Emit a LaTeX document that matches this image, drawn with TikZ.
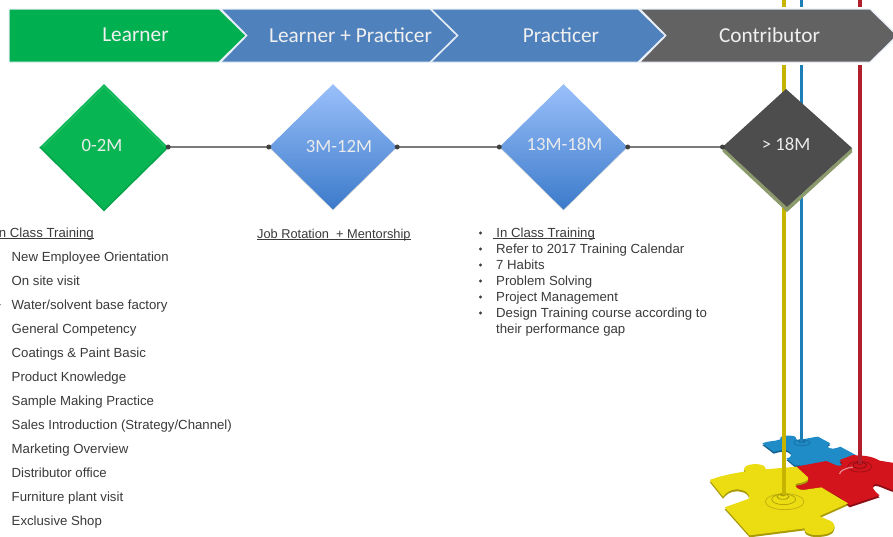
\documentclass[tikz,border=0pt]{standalone}
\usepackage{fontspec}
\setmainfont{Liberation Sans}
\newfontfamily\headfont{Carlito}
\usetikzlibrary{shapes.geometric,calc}
\definecolor{cgreen}{HTML}{00B050}
\definecolor{cgreenb}{HTML}{07B653}
\definecolor{cblue}{HTML}{4F81BD}
\definecolor{cdark}{HTML}{626262}
\definecolor{cface}{HTML}{4D4D4D}
\definecolor{colive}{HTML}{8B9A6B}
\definecolor{ctext}{HTML}{3A3A3A}
\definecolor{cline}{HTML}{7A7A7A}
\definecolor{cyel}{HTML}{C6B400}
\definecolor{cblu}{HTML}{1C7FB8}
\definecolor{cred}{HTML}{B01F2B}
\definecolor{pyel}{HTML}{EBDD12}
\definecolor{pyeld}{HTML}{A89A08}
\definecolor{pblu}{HTML}{1F8CC8}
\definecolor{pblud}{HTML}{14608C}
\definecolor{pred}{HTML}{D3141C}
\definecolor{predd}{HTML}{8C0E14}
\definecolor{gemtop}{HTML}{9AC0FA}
\definecolor{gembot}{HTML}{3B7ACA}
\newcommand\undr[1]{\setbox0\hbox{#1}\rlap{\rule[-1.3pt]{\wd0}{.7pt}}\box0}
\tikzset{
  x=1pt,y=-1pt,
  head/.style={font=\headfont\fontsize{21.3}{24}\selectfont,text=white!94!black},
  dtext/.style={font=\headfont\fontsize{18.7}{21}\selectfont,text=white!92!black},
  chev/.style={draw=white!85!cblue,line width=1pt},
  gem/.style={diamond,inner sep=0pt,minimum width=128pt,minimum height=126pt},
  greengem/.style={gem,fill=cgreenb},
  bluegem/.style={gem,top color=gemtop,bottom color=gembot},
  link/.style={draw=cline,line width=2.2pt},
  jdot/.style={circle,fill=black!75,inner sep=0pt,minimum size=5pt},
  item/.style={anchor=base west,inner sep=0pt,font=\fontsize{13.2}{15}\selectfont,text=ctext},
  pour/.style={line width=4pt},
}
\begin{document}
\begin{tikzpicture}
\useasboundingbox (0,0) rectangle (893,536);
\clip (0,0) rectangle (893,536);
\fill[white] (0,0) rectangle (893,536);
% pouring lines
\coordinate (yt) at (784,0); \coordinate (yb) at (784,495);
\coordinate (bt) at (801.5,0); \coordinate (bb) at (801.5,442);
\coordinate (rt) at (860,0); \coordinate (rb) at (860,464);
% puzzle
\begin{scope}[shift={(693,400)},scale=1/3]
  \def\pblue{(208,130) .. controls (225,122) and (245,125) .. (262,118) .. controls (258,108) and (275,106) .. (290,107) .. controls (305,106) and (312,112) .. (312,120) .. controls (335,118) and (355,112) .. (375,110) -- (412,130) .. controls (398,136) and (400,144) .. (420,146) .. controls (428,146) and (436,142) .. (442,140) -- (490,166) -- (440,200) -- (305,196) -- (280,175) .. controls (300,172) and (298,158) .. (285,152) .. controls (270,148) and (255,152) .. (242,156) -- cycle}
  \def\pred{(310,200) -- (400,183) -- (430,196) .. controls (445,200) and (455,195) .. (440,180) -- (480,165) .. controls (510,168) and (530,165) .. (560,182) -- (610,190) -- (610,272) .. controls (585,268) and (560,250) .. (545,252) .. controls (530,258) and (545,275) .. (560,286) -- (470,316) -- (440,292) -- (385,262) -- (330,270) .. controls (300,268) and (305,250) .. (312,250) .. controls (335,248) and (350,240) .. (345,232) -- cycle}
  \def\pyel{(50,240) .. controls (80,228) and (120,220) .. (160,214) .. controls (140,205) and (165,192) .. (185,192) .. controls (205,192) and (220,198) .. (218,208) -- (310,200) -- (345,232) .. controls (350,240) and (335,248) .. (312,250) .. controls (303,252) and (305,268) .. (330,270) -- (385,262) -- (465,310) -- (380,348) .. controls (395,358) and (425,362) .. (425,378) .. controls (425,398) and (400,405) .. (370,405) .. controls (345,405) and (332,395) .. (335,385) -- (170,406) -- (95,322) -- (168,296) .. controls (172,280) and (155,268) .. (130,268) .. controls (110,268) and (98,280) .. (90,290) -- cycle}
  \fill[pblud,shift={(0,5)}] \pblue;
  \fill[pblu] \pblue;
  \fill[predd,shift={(0,6)}] \pred;
  \fill[pred] \pred;
  \fill[pyeld,shift={(0,6)}] \pyel;
  \fill[pyel] \pyel;
  % ripples
  \draw[pblud!60!pblu,line width=.8pt] (327,128) ellipse (24 and 9);
  \fill[pblud!60!pblu] (327,124) ellipse (12 and 5);
  \draw[predd!70!pred,line width=.8pt] (500,200) ellipse (36 and 16);
  \draw[predd,line width=.8pt] (500,196) ellipse (20 and 9);
  \fill[predd] (500,190) ellipse (9 and 4);
  \draw[white!50!pred,line width=1.2pt] (440,222) arc (180:250:60 and 22);
  \draw[pyeld!60!pyel,line width=.8pt] (275,305) ellipse (58 and 24);
  \draw[pyeld!80!pyel,line width=.8pt] (272,298) ellipse (36 and 16);
  \draw[pyeld,line width=.8pt] (270,290) ellipse (18 and 8);
  \fill[pyeld] (270,284) ellipse (9 and 5);
\end{scope}
\draw[cyel,pour] (yt) -- (yb);
\draw[cblu,pour,line width=3pt] (bt) -- (bb);
\draw[cred,pour] (rt) -- (rb);
% chevrons
\fill[white] (0,7) rectangle (893,65);
\filldraw[chev,fill=cgreen] (9,9) -- (219,9) -- (246,35.5) -- (219,62) -- (9,62) -- cycle;
\filldraw[chev,fill=cblue] (221,9) -- (430,9) -- (457,35.5) -- (430,62) -- (221,62) -- (247,35.5) -- cycle;
\filldraw[chev,fill=cblue] (431,9) -- (638,9) -- (665,35.5) -- (638,62) -- (431,62) -- (458,35.5) -- cycle;
\filldraw[chev,fill=cdark] (640,9) -- (870,9) -- (897,35.5) -- (870,62) -- (640,62) -- (666,35.5) -- cycle;
\node[head] (h1) at (135.5,35) {Learner};
\node[head] (h2) at (350.5,35) {Learner + Practicer};
\node[head] (h3) at (561,35) {Practicer};
\node[head] (h4) at (769.5,35) {Contributor};
% diamonds
\node[greengem] (d1) at (104,147) {};
\node[bluegem] (d2) at (333,147) {};
\node[bluegem] (d3) at (563.5,147) {};
\coordinate (dT) at (786,89); \coordinate (dL) at (722.5,147); \coordinate (dR) at (852,148); \coordinate (dB) at (787,207);
\fill[colive] (dL) -- (dB) -- (dR) -- ++(0,4.5) -- ($(dB)+(0,5)$) -- ($(dL)+(0,4.5)$) -- cycle;
\fill[cface] (dT) -- (dR) -- (dB) -- (dL) -- cycle;
% bevel of green
\draw[white!12!cgreenb,line width=1pt] ($(d1.west)+(3,0)$) -- ($(d1.north)+(0,3)$) -- ($(d1.east)+(-3,0)$);
\draw[black!8!cgreen,line width=1.5pt] (d1.west) -- (d1.south) -- (d1.east);
\draw[black!18,line width=.5pt] (d2.west) -- (d2.south) -- (d2.east);
\draw[black!18,line width=.5pt] (d3.west) -- (d3.south) -- (d3.east);
\node[dtext] (t1) at (102,145) {0-2M};
\node[dtext] (t2) at (339,146) {3M-12M};
\node[dtext] (t3) at (564.5,144) {13M-18M};
\node[dtext] (t4) at (786,144) {> 18M};
% connectors
\draw[link] (d1.east) -- (d2.west);
\draw[link] (d2.east) -- (d3.west);
\draw[link] (d3.east) -- (dL);
\foreach \p in {d1.east,d2.west,d2.east,d3.west,d3.east,dL}{\node[jdot] at (\p) {};}
% left list
\node[item] (l0) at (-5,237) {\undr{In Class Training}};
\foreach \n/\yy/\txt in {l1/261/{New Employee Orientation},l2/285/{On site visit},l3/309/{Water/solvent base factory},l4/333/{General Competency},l5/357/{Coatings \& Paint Basic},l6/381/{Product Knowledge},l7/405/{Sample Making Practice},l8/429/{Sales Introduction (Strategy/Channel)},l9/453/{Marketing Overview},l10/477/{Distributor office},l11/501/{Furniture plant visit},l12/525/{Exclusive Shop}}
  {\node[item] (\n) at (11.5,\yy) {\txt};}
\fill[black!45] (0,304.5) circle (1);
% middle
\node[item,font=\fontsize{12.8}{15}\selectfont] (m0) at (257,238) {\undr{Job Rotation\ \ + Mentorship}};
% right list
\node[item] (r1) at (492.5,237) {\undr{\ In Class Training}};
\foreach \n/\yy/\txt in {r2/253/{Refer to 2017 Training Calendar},r3/269/{7 Habits},r4/285/{Problem Solving},r5/301/{Project Management},r6/317/{Design Training course according to},r7/333/{their performance gap}}
  {\node[item] (\n) at (496,\yy) {\txt};}
\foreach \yy in {233,249,265,281,297,313}{\fill[ctext] (480.5,\yy) circle (1.7);}
\end{tikzpicture}
\end{document}
